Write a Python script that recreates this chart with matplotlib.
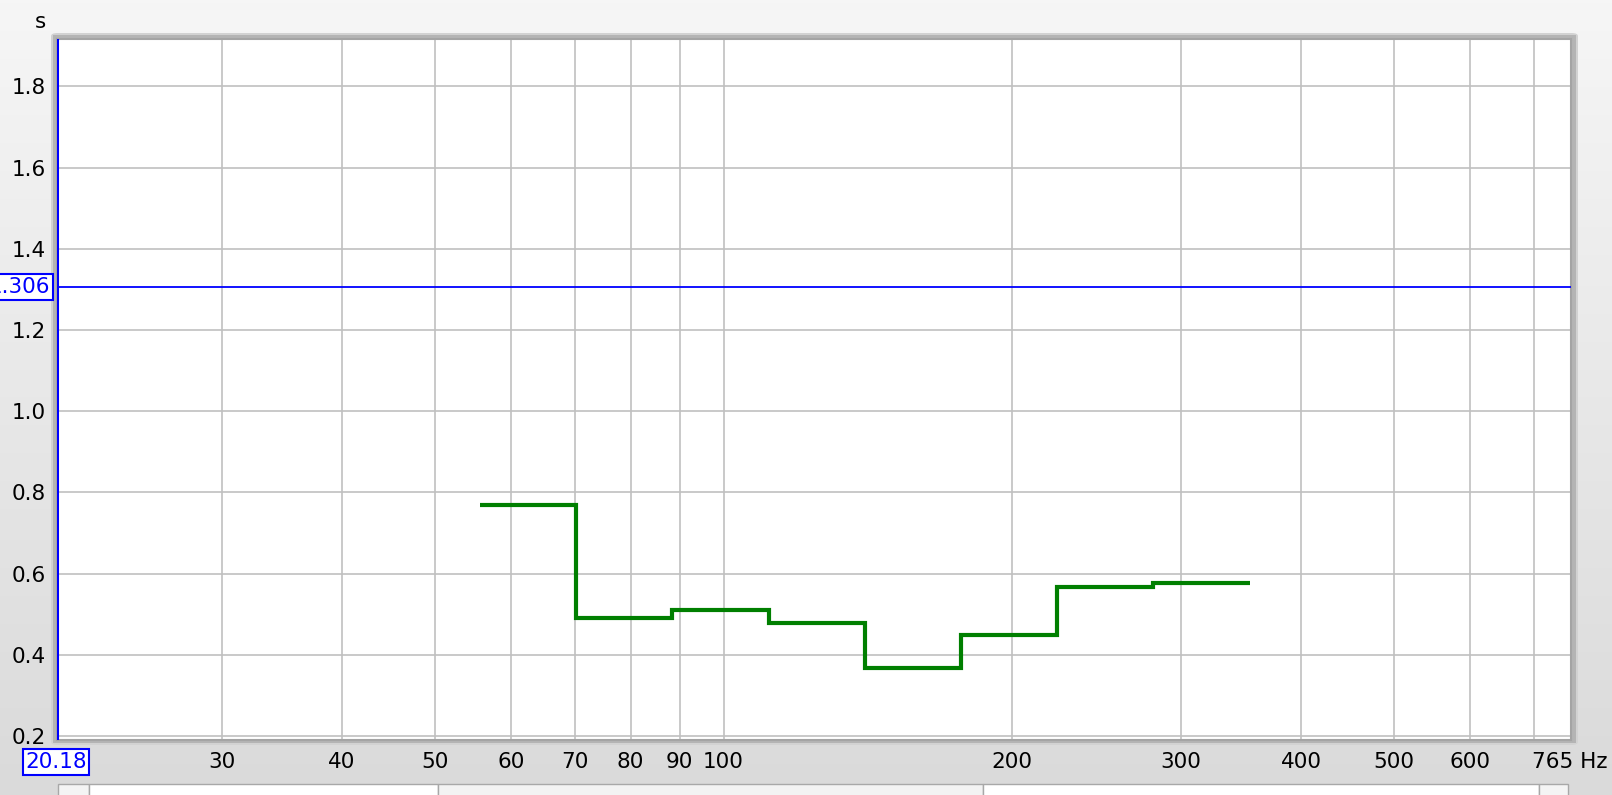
import numpy as np
import matplotlib
matplotlib.use("Agg")
import matplotlib.pyplot as plt
from matplotlib.patches import Rectangle, FancyBboxPatch

# band edges (Hz) and decay values (s)
band_edges = [55.7, 70.2, 88.4, 111.4, 140.3, 176.8, 222.7, 280.6, 353.6]
decay_s = [0.77, 0.49, 0.51, 0.478, 0.367, 0.448, 0.568, 0.576]

x_ticks = [30, 40, 50, 60, 70, 80, 90, 100, 200, 300, 400, 500, 600, 700]
x_labels = ["30", "40", "50", "60", "70", "80", "90", "100", "200", "300", "400", "500", "600", ""]
y_ticks = [0.2, 0.4, 0.6, 0.8, 1.0, 1.2, 1.4, 1.6, 1.8]
x_min, x_max = 20.18, 765
y_min, y_max = 0.19, 1.917
cursor_y = 1.306

W, H = 1612, 795
fig = plt.figure(figsize=(W / 100, H / 100), dpi=100)

def fx(px):
    return px / W

def fy(py):
    return 1 - py / H

# background gradient
bg = fig.add_axes([0, 0, 1, 1], zorder=-10)
grad = np.linspace(0, 1, 256).reshape(-1, 1)
bg.imshow(grad, aspect="auto", cmap=matplotlib.colors.LinearSegmentedColormap.from_list(
    "g", ["#f6f6f6", "#dadada"]), extent=[0, 1, 0, 1])
bg.set_xlim(0, 1)
bg.set_ylim(0, 1)
bg.axis("off")

# frame shadow
fig.patches.append(FancyBboxPatch((fx(51), fy(745)), fx(1578) - fx(51), fy(33) - fy(745),
                                  boxstyle="round,pad=0,rounding_size=0.004",
                                  transform=fig.transFigure, facecolor="#d2d2d2",
                                  edgecolor="none", zorder=-5))
fig.patches.append(Rectangle((fx(53), fy(743)), fx(1576) - fx(53), fy(35) - fy(743),
                             transform=fig.transFigure, facecolor="#b4b4b4",
                             edgecolor="none", zorder=-4))

ax = fig.add_axes([fx(57), fy(740), fx(1571) - fx(57), fy(39) - fy(740)])
ax.set_facecolor("white")
ax.set_xscale("log")
ax.set_xlim(x_min, x_max)
ax.set_ylim(y_min, y_max)

ax.set_xticks(x_ticks)
ax.set_xticklabels(x_labels)
ax.xaxis.set_minor_locator(matplotlib.ticker.NullLocator())
ax.set_yticks(y_ticks)
ax.set_yticklabels([f"{v:.1f}" for v in y_ticks])
ax.tick_params(axis="both", length=0, labelsize=15.5, colors="black")
ax.tick_params(axis="x", pad=9)
ax.tick_params(axis="y", pad=8)
ax.grid(True, color="#c0c0c0", linewidth=1.2)
ax.set_axisbelow(True)
for s in ax.spines.values():
    s.set_color("#a4a4a4")
    s.set_linewidth(1.5)

ax.stairs(decay_s, band_edges, baseline=None, color="#007f00", linewidth=3, zorder=4)

# cursors
ax.axhline(cursor_y, color="#0000ff", linewidth=1.3, zorder=5)
ax.axvline(x_min, color="#0000ff", linewidth=2.2, zorder=6)

box = dict(boxstyle="square,pad=0.12", facecolor="white", edgecolor="#0000ff", linewidth=1.5)
y_disp = ax.transData.transform((x_min, cursor_y))[1]
fig.text(fx(50), y_disp / H, f"{cursor_y:.3f}", ha="right", va="center",
         fontsize=15.5, color="#0000ff", bbox=box)
fig.text(fx(56), fy(762), f"{x_min:.2f}", ha="center", va="center",
         fontsize=15.5, color="#0000ff", bbox=box)
fig.text(fx(1607), fy(762), f"{x_max:.0f} Hz", ha="right", va="center",
         fontsize=15.5, color="black")
fig.text(fx(40), fy(22), "s", ha="center", va="center", fontsize=15.5)

# scrollbar
sb_y0, sb_y1 = fy(796), fy(784)
def seg(x0, x1, fc):
    fig.patches.append(Rectangle((fx(x0), sb_y0), fx(x1) - fx(x0), sb_y1 - sb_y0,
                                 transform=fig.transFigure, facecolor=fc,
                                 edgecolor="#a8a8a8", linewidth=1, zorder=2))
seg(58, 89, "#f4f4f4")
seg(89, 438, "white")
seg(438, 983, "#f3f3f3")
seg(983, 1539, "white")
seg(1539, 1568, "#f4f4f4")

fig.savefig("out.png", dpi=100)
